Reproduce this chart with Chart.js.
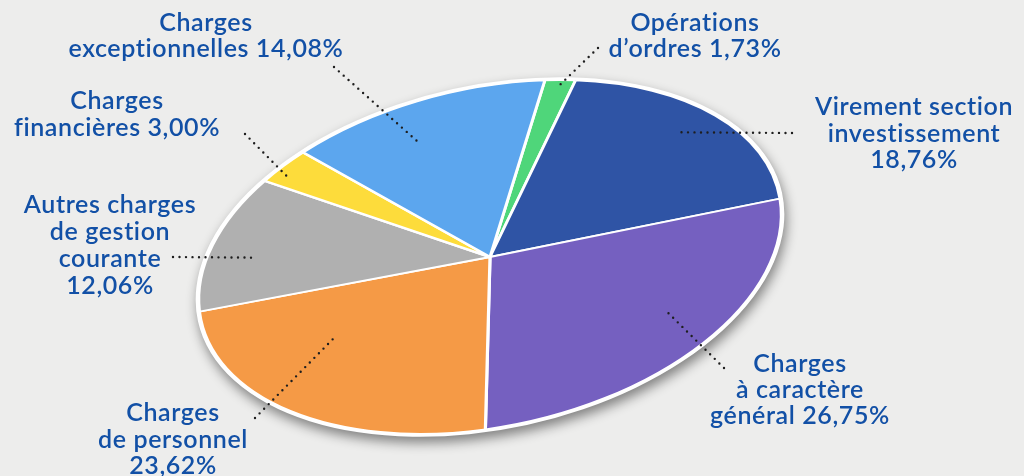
<!DOCTYPE html>
<html lang="fr">
<head>
<meta charset="utf-8">
<title>Dépenses de fonctionnement</title>
<script src="https://cdn.jsdelivr.net/npm/chart.js@4.4.1/dist/chart.umd.min.js"></script>
<style>
  html, body { margin: 0; padding: 0; background: #ededec; overflow: hidden; }
  #wrap { position: relative; width: 1024px; height: 476px; }
</style>
</head>
<body>
<div id="wrap"><canvas id="pie" width="1024" height="476"></canvas></div>
<script>
// ── data (clockwise, starting at the top) ────────────────────────────────
const categories = [
  "Opérations d’ordres",
  "Virement section investissement",
  "Charges à caractère général",
  "Charges de personnel",
  "Autres charges de gestion courante",
  "Charges financières",
  "Charges exceptionnelles",
];
const shares = [1.73, 18.76, 26.75, 23.62, 12.06, 3.0, 14.08];
const colors = ["#4fd67a", "#2f54a5", "#7560c0", "#f59a46", "#b0b0b0", "#fddc3b", "#5ca6ee"];
// label lines, {p} = percentage
const labelLines = [
  ["Opérations", "d’ordres {p}"],
  ["Virement section", "investissement", "{p}"],
  ["Charges", "à caractère", "général {p}"],
  ["Charges", "de personnel", "{p}"],
  ["Autres charges", "de gestion", "courante", "{p}"],
  ["Charges", "financières {p}"],
  ["Charges", "exceptionnelles {p}"],
];

// ── look ────────────────────────────────────────────────────────────────
const TEXT = "#1250a6";
const FONT = "600 25px Lato, 'Open Sans', sans-serif";
// squashed + tilted pie
const ELL = { cx: 490, cy: 257, a: 296, b: 169, tilt: (-12.4 * Math.PI) / 180 };
// label placement: text centre x, first baseline y, line height,
// outer end of dotted leader, anchor angle shift (deg) and radial fraction
const labelLayout = [
  { x: 695, y: 31, lh: 26, end: [598, 48], shift: 0, f: 0.96 },
  { x: 914, y: 115, lh: 26.5, end: [792, 133], shift: -2, f: 0.86 },
  { x: 800, y: 372, lh: 26, end: [724, 368], shift: -5, f: 0.77 },
  { x: 173, y: 421, lh: 26.5, end: [255, 418], shift: 14, f: 0.64 },
  { x: 110, y: 213, lh: 27, end: [173, 257], shift: -4, f: 0.83 },
  { x: 117, y: 109, lh: 27, end: [245, 134], shift: -2.5, f: 0.93 },
  { x: 206, y: 31, lh: 26, end: [334, 67], shift: -4, f: 0.76 },
];

const pct = (v) => v.toFixed(2).replace(".", ",") + "%";

// ── plugins ─────────────────────────────────────────────────────────────
const ellipsePlugin = {
  id: "ellipse",
  beforeDatasetsDraw(chart) {
    const ctx = chart.ctx;
    const arc = chart.getDatasetMeta(0).data[0];
    const r = arc.outerRadius;
    // drop shadow + white rim
    ctx.save();
    ctx.shadowColor = "rgba(0,0,0,0.45)";
    ctx.shadowBlur = 12;
    ctx.shadowOffsetX = 2;
    ctx.shadowOffsetY = 6;
    ctx.fillStyle = "#fff";
    ctx.beginPath();
    ctx.ellipse(ELL.cx, ELL.cy, ELL.a + 3, ELL.b + 3, ELL.tilt, 0, Math.PI * 2);
    ctx.fill();
    ctx.restore();
    // map the library's circle onto the ellipse
    ctx.save();
    ctx.translate(ELL.cx, ELL.cy);
    ctx.rotate(ELL.tilt);
    ctx.scale(ELL.a / r, ELL.b / r);
    ctx.translate(-arc.x, -arc.y);
    chart.$ellMatrix = ctx.getTransform();
  },
  afterDatasetsDraw(chart) {
    chart.ctx.restore();
  },
};

const labelPlugin = {
  id: "labels",
  afterDraw(chart) {
    const ctx = chart.ctx;
    const m = chart.$ellMatrix;
    const meta = chart.getDatasetMeta(0);
    const r = meta.data[0].outerRadius;
    ctx.save();
    meta.data.forEach((arc, i) => {
      const L = labelLayout[i];
      const ang = (arc.startAngle + arc.endAngle) / 2 + (L.shift * Math.PI) / 180;
      const p = m.transformPoint(
        new DOMPoint(arc.x + L.f * r * Math.cos(ang), arc.y + L.f * r * Math.sin(ang))
      );
      // dotted leader
      ctx.strokeStyle = "#1e1e1e";
      ctx.lineWidth = 2.4;
      ctx.lineCap = "round";
      ctx.setLineDash([0, 6.5]);
      ctx.beginPath();
      ctx.moveTo(L.end[0], L.end[1]);
      ctx.lineTo(p.x, p.y);
      ctx.stroke();
      // text
      ctx.setLineDash([]);
      ctx.fillStyle = TEXT;
      ctx.font = FONT;
      ctx.letterSpacing = "0.6px";
      ctx.textAlign = "center";
      ctx.textBaseline = "alphabetic";
      labelLines[i].forEach((t, k) => {
        ctx.fillText(t.replace("{p}", pct(shares[i])), L.x, L.y + k * L.lh);
      });
    });
    ctx.restore();
  },
};

new Chart(document.getElementById("pie"), {
  type: "pie",
  data: {
    labels: categories,
    datasets: [
      {
        data: shares,
        backgroundColor: colors,
        borderColor: "#ffffff",
        borderWidth: 2.6,
        clip: false,
      },
    ],
  },
  options: {
    responsive: false,
    animation: false,
    rotation: 18,
    layout: { padding: 0 },
    events: [],
    plugins: {
      legend: { display: false },
      tooltip: { enabled: false },
    },
  },
  plugins: [ellipsePlugin, labelPlugin],
});
</script>
</body>
</html>
